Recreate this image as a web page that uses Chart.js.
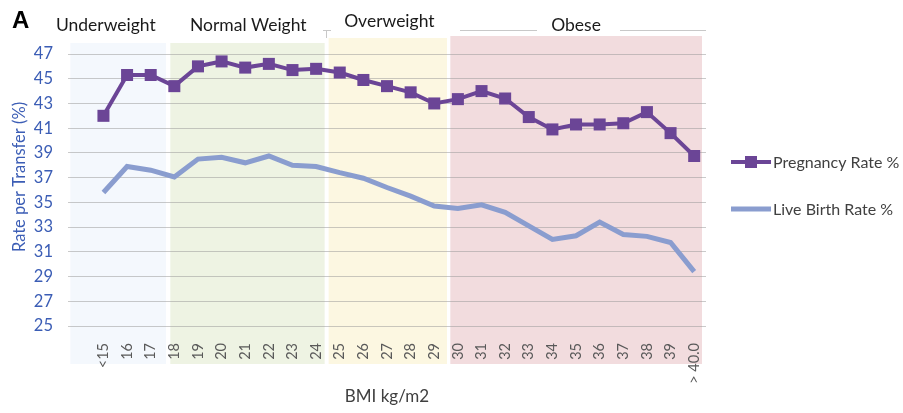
<!DOCTYPE html>
<html>
<head>
<meta charset="utf-8">
<script src="https://cdn.jsdelivr.net/npm/chart.js@4/dist/chart.umd.min.js"></script>
<style>
  html, body { margin: 0; padding: 0; background: #fff; }
  #wrap { width: 903px; height: 413px; position: relative; }
</style>
</head>
<body>
<div id="wrap"><canvas id="grafico"></canvas></div>
<script>
// ===================== DADOS =====================
const bmiLabels = ['<15', '16', '17', '18', '19', '20', '21', '22', '23', '24', '25', '26', '27',
    '28', '29', '30', '31', '32', '33', '34', '35', '36', '37', '38', '39', '> 40.0'];

const pregnancyRate = [42.0, 45.3, 45.3, 44.4, 46.0, 46.4, 45.9, 46.2, 45.7, 45.8, 45.5, 44.9, 44.4,
    43.9, 43.0, 43.35, 44.0, 43.4, 41.9, 40.9, 41.3, 41.3, 41.4, 42.3, 40.6, 38.75];

const liveBirthRate = [35.8, 37.9, 37.6, 37.05, 38.5, 38.65, 38.2, 38.75, 38.0, 37.9, 37.4, 36.95, 36.2,
    35.5, 34.7, 34.5, 34.8, 34.2, 33.1, 32.0, 32.3, 33.4, 32.4, 32.25, 31.75, 29.4];

// faixas de IMC (em índice de categoria)
const bandNames = ['Underweight', 'Normal Weight', 'Overweight', 'Obese'];
const bandStart = [-1.4, 2.83, 9.53, 14.68];
const bandEnd = [2.65, 9.36, 14.54, 25.33];
const bandLabelAt = [0.1, 6.13, 12.1, 20.0];

// ===================== CORES =====================
const corGravidez = '#6b4596';
const corNascidos = '#8a9dcf';
const corEixoY = '#3b5db5';
const coresFaixas = ['#f4f8fd', '#eef3e3', '#fcf7e1', '#f2dcde'];
const topoFaixas = [43, 43, 38, 36];
const fonte = 'Lato, "Open Sans", sans-serif';

// ===================== PLUGINS =====================
const faixasPlugin = {
    id: 'faixas',
    beforeDraw(chart) {
        const { ctx } = chart;
        const x = chart.scales.x;
        ctx.save();
        bandNames.forEach((nome, i) => {
            const x0 = x.getPixelForValue(bandStart[i]);
            const x1 = x.getPixelForValue(bandEnd[i]);
            ctx.fillStyle = coresFaixas[i];
            ctx.fillRect(x0, topoFaixas[i], x1 - x0, 364 - topoFaixas[i]);
        });
        ctx.restore();
    },
    afterDraw(chart) {
        const { ctx } = chart;
        const x = chart.scales.x;
        ctx.save();
        // letra do painel
        ctx.fillStyle = '#000';
        ctx.font = 'bold 24px "Liberation Sans", Arial, sans-serif';
        ctx.textBaseline = 'middle';
        ctx.textAlign = 'left';
        ctx.fillText('A', 12, 21);

        // título do eixo Y
        ctx.save();
        ctx.translate(20, 177);
        ctx.rotate(-Math.PI / 2);
        ctx.textAlign = 'center';
        ctx.fillStyle = corEixoY;
        ctx.font = '16.5px ' + fonte;
        ctx.fillText('Rate per Transfer (%)', 0, 0);
        ctx.restore();

        // rótulos das faixas
        ctx.font = '17.5px ' + fonte;
        ctx.fillStyle = '#1a1a1a';
        ctx.textAlign = 'center';
        bandNames.forEach((nome, i) => {
            const y = nome === 'Overweight' ? 21 : 25;
            ctx.fillText(nome, x.getPixelForValue(bandLabelAt[i]), y);
        });

        // linhas ao lado de "Obese"
        ctx.strokeStyle = '#c8c8c8';
        ctx.lineWidth = 1;
        ctx.beginPath();
        ctx.moveTo(460, 30.5); ctx.lineTo(537, 30.5);
        ctx.moveTo(620, 30.5); ctx.lineTo(706, 30.5);
        ctx.moveTo(323, 30.5); ctx.lineTo(331, 30.5);
        ctx.moveTo(326.5, 30.5); ctx.lineTo(326.5, 38);
        ctx.stroke();

        // legenda
        ctx.font = '16px ' + fonte;
        ctx.textAlign = 'left';
        chart.data.datasets.forEach((ds, i) => {
            const y = 162 + i * 47;
            ctx.strokeStyle = ds.borderColor;
            ctx.lineWidth = ds.borderWidth;
            ctx.beginPath();
            ctx.moveTo(731, y);
            ctx.lineTo(771, y);
            ctx.stroke();
            if (ds.pointRadius > 0) {
                ctx.fillStyle = ds.borderColor;
                ctx.fillRect(745, y - 6, 12, 12);
            }
            ctx.fillStyle = '#404040';
            ctx.fillText(ds.label, 773, y + 1);
        });
        ctx.restore();
    }
};

// ===================== GRÁFICO =====================
const ctx = document.getElementById('grafico').getContext('2d');

new Chart(ctx, {
    type: 'line',
    data: {
        datasets: [
            {
                label: 'Pregnancy Rate %',
                data: pregnancyRate.map((v, i) => ({ x: i, y: v })),
                borderColor: corGravidez,
                backgroundColor: corGravidez,
                borderWidth: 4,
                pointStyle: 'rect',
                pointRadius: 8.5,
                pointBorderWidth: 0,
                tension: 0
            },
            {
                label: 'Live Birth Rate %',
                data: liveBirthRate.map((v, i) => ({ x: i, y: v })),
                borderColor: corNascidos,
                backgroundColor: corNascidos,
                borderWidth: 5,
                pointRadius: 0,
                tension: 0
            }
        ]
    },
    options: {
        responsive: true,
        maintainAspectRatio: false,
        animation: false,
        layout: { padding: { top: 54, right: 197, left: 0, bottom: 0 } },
        plugins: {
            legend: { display: false },
            tooltip: { enabled: false }
        },
        scales: {
            x: {
                type: 'linear',
                min: -1.5,
                max: 25.5,
                afterBuildTicks: s => { s.ticks = bmiLabels.map((_, i) => ({ value: i })); },
                afterFit: s => { s.height = 87; },
                grid: { display: false },
                border: { display: false },
                ticks: {
                    autoSkip: false,
                    minRotation: 90,
                    maxRotation: 90,
                    padding: 9,
                    color: '#595959',
                    font: { family: fonte, size: 14.5 },
                    callback: v => bmiLabels[v] ?? ''
                },
                title: {
                    display: true,
                    text: 'BMI kg/m2',
                    color: '#404040',
                    font: { family: fonte, size: 17 },
                    padding: { top: 0, bottom: 6 }
                }
            },
            y: {
                min: 25,
                max: 47,
                afterFit: s => { s.width = 68; },
                grid: { color: 'rgba(150,150,150,0.5)', lineWidth: 1, drawTicks: false },
                border: { display: false },
                ticks: {
                    stepSize: 2,
                    padding: 15,
                    color: corEixoY,
                    font: { family: fonte, size: 16.5 }
                },
                title: { display: false }
            }
        }
    },
    plugins: [faixasPlugin]
});
</script>
</body>
</html>
